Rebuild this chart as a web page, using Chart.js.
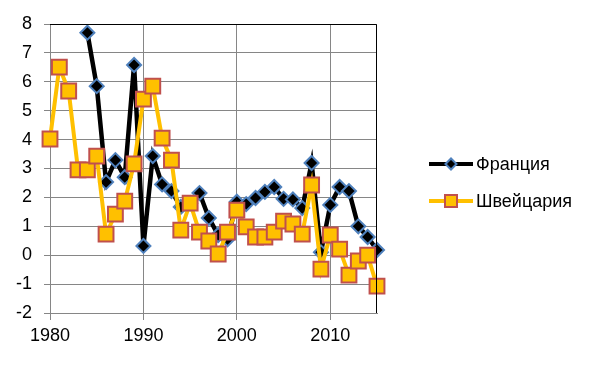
<!DOCTYPE html>
<html>
<head>
<meta charset="utf-8">
<script src="https://cdn.jsdelivr.net/npm/chart.js@4"></script>
<style>
  html, body { margin: 0; padding: 0; background: #fff; }
  #wrap { width: 600px; height: 367px; position: relative; }
</style>
</head>
<body>
<div id="wrap"><canvas id="grafica"></canvas></div>
<script>
const anios = [1980, 1981, 1982, 1983, 1984, 1985, 1986, 1987, 1988, 1989,
               1990, 1991, 1992, 1993, 1994, 1995, 1996, 1997, 1998, 1999,
               2000, 2001, 2002, 2003, 2004, 2005, 2006, 2007, 2008, 2009,
               2010, 2011, 2012, 2013, 2014, 2015]

const francia = [null, null, null, null, 7.7, 5.85, 2.53, 3.29, 2.7, 6.58,
                 0.32, 3.43, 2.45, 2.22, 1.67, 1.8, 2.15, 1.29, 0.7, 0.55,
                 1.85, 1.77, 1.98, 2.19, 2.36, 1.95, 1.93, 1.63, 3.19, 0.1,
                 1.74, 2.36, 2.22, 1.0, 0.63, 0.18]

const suiza = [4.02, 6.51, 5.68, 2.95, 2.95, 3.43, 0.73, 1.42, 1.87, 3.16,
               5.4, 5.85, 4.05, 3.29, 0.87, 1.8, 0.8, 0.49, 0.04, 0.8,
               1.56, 0.98, 0.63, 0.63, 0.8, 1.18, 1.08, 0.73, 2.43, -0.48,
               0.7, 0.21, -0.69, -0.2, 0.0, -1.07]

const ticksX = [1980, 1990, 2000, 2010]
const nombres = ['Франция', 'Швейцария']

const fuente = '"Liberation Sans", Arial, sans-serif'

const bordeNegro = {
    id: 'bordeNegro',
    afterDatasetsDraw(chart) {
        // lineas negras arriba y a la derecha, leyenda a mano
        const { ctx, chartArea: a } = chart
        ctx.save()
        ctx.strokeStyle = '#000'
        ctx.lineWidth = 1
        ctx.beginPath()
        ctx.moveTo(a.left, a.top + 0.5)
        ctx.lineTo(a.right - 0.5, a.top + 0.5)
        ctx.lineTo(a.right - 0.5, a.bottom)
        ctx.stroke()

        const filas = [164, 201]
        chart.data.datasets.forEach((ds, i) => {
            const y = filas[i]
            ctx.strokeStyle = ds.borderColor
            ctx.lineWidth = 4
            ctx.beginPath()
            ctx.moveTo(429, y)
            ctx.lineTo(473, y)
            ctx.stroke()
            ctx.fillStyle = ds.pointBackgroundColor
            ctx.strokeStyle = ds.pointBorderColor
            ctx.lineWidth = ds.pointBorderWidth
            Chart.helpers.drawPoint(ctx, {
                pointStyle: ds.pointStyle,
                radius: ds.pointStyle === 'rectRot' ? 5.5 : 8.5,
                borderWidth: ds.pointBorderWidth
            }, 451, y)
            ctx.fillStyle = '#000'
            ctx.font = '18px ' + fuente
            ctx.textBaseline = 'middle'
            ctx.fillText(ds.label, 476, y + 1)
        })
        ctx.restore()
    }
}

const ctx = document.getElementById('grafica').getContext('2d')
const myChart = new Chart(ctx, {
    type: 'line',
    data: {
        datasets: [{
            label: nombres[0],
            data: anios.map((a, i) => ({ x: a, y: francia[i] })),
            borderColor: '#000000',
            borderWidth: 4.5,
            pointStyle: 'rectRot',
            pointRadius: 7,
            pointBackgroundColor: '#000000',
            pointBorderColor: '#4f81bd',
            pointBorderWidth: 2,
            tension: 0,
            clip: false,
            order: 2
        }, {
            label: nombres[1],
            data: anios.map((a, i) => ({ x: a, y: suiza[i] })),
            borderColor: '#ffc000',
            borderWidth: 4,
            pointStyle: 'rect',
            pointRadius: 10.5,
            pointBackgroundColor: '#ffc000',
            pointBorderColor: '#c0504d',
            pointBorderWidth: 2,
            tension: 0,
            clip: false,
            order: 1
        }]
    },
    options: {
        responsive: true,
        maintainAspectRatio: false,
        animation: false,
        layout: {
            padding: { top: 24, right: 223, left: 0, bottom: 0 }
        },
        scales: {
            x: {
                type: 'linear',
                min: 1980,
                max: 2015,
                afterBuildTicks: axis => { axis.ticks = ticksX.map(v => ({ value: v })) },
                afterFit: axis => { axis.height = 54 },
                grid: { color: '#868686', tickLength: 7 },
                border: { color: '#868686' },
                ticks: {
                    color: '#000',
                    font: { family: fuente, size: 18 },
                    padding: 5,
                    maxRotation: 0,
                    callback: v => String(v)
                }
            },
            y: {
                min: -2,
                max: 8,
                afterFit: axis => { axis.width = 50 },
                grid: { color: '#868686', tickLength: 6 },
                border: { color: '#868686' },
                ticks: {
                    stepSize: 1,
                    color: '#000',
                    font: { family: fuente, size: 18 },
                    padding: 12
                }
            }
        },
        plugins: {
            legend: { display: false },
            tooltip: { enabled: false }
        }
    },
    plugins: [bordeNegro]
})
</script>
</body>
</html>
